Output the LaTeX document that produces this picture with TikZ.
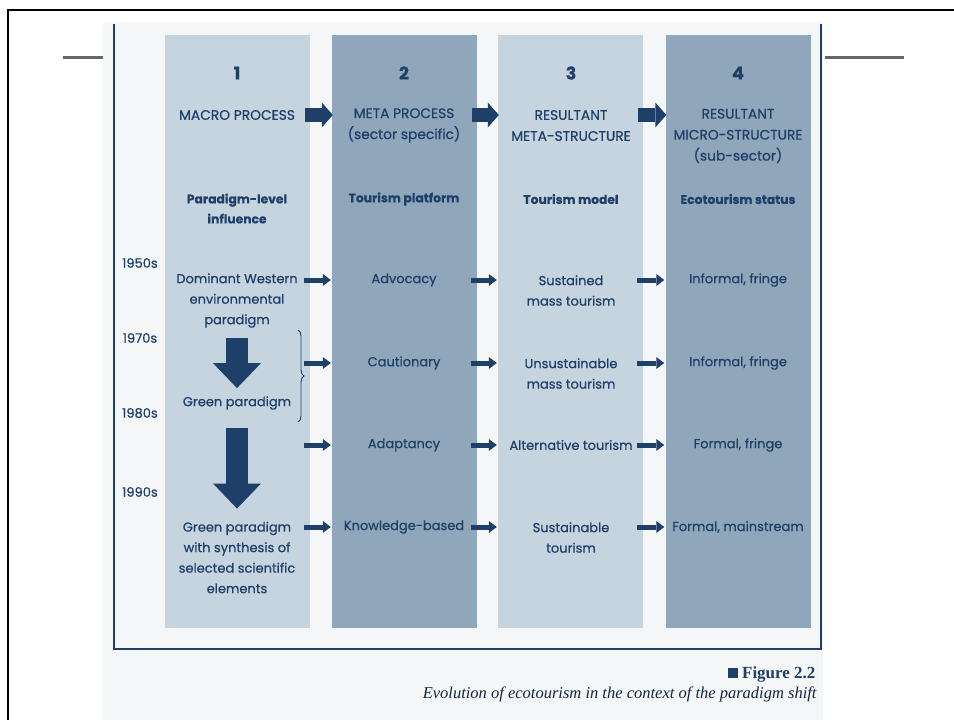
\documentclass[tikz,border=0pt]{standalone}
\usepackage{fontspec}
\setmainfont{Poppins}[UprightFeatures={FakeBold=0.5},BoldFeatures={FakeBold=0.4}]
\newfontfamily\capfont{Liberation Serif}
\usetikzlibrary{arrows.meta,decorations.pathreplacing}

\definecolor{navy}{HTML}{1D3F68}
\definecolor{palecol}{HTML}{C6D4E0}
\definecolor{deepcol}{HTML}{8FA6BB}
\definecolor{scan}{HTML}{F5F6F7}
\definecolor{rulegray}{HTML}{666666}

\tikzset{
  column/.style={minimum width=145pt, minimum height=593pt, inner sep=0pt},
  txt/.style={text=navy, align=center, inner sep=1pt, font=\fontsize{13}{20.5}\selectfont},
  hdr/.style={txt, font=\fontsize{13.8}{21}\selectfont},
  ttl/.style={txt, font=\bfseries\fontsize{12.3}{20}\selectfont},
  num/.style={txt, font=\bfseries\fontsize{17.5}{20}\selectfont},
  yr/.style={txt},
  bigarrow/.style={navy, line width=14pt, -{Triangle[width=25pt,length=11pt,line width=0pt]}},
  flow/.style={navy, line width=5pt, -{Triangle[width=12pt,length=8pt,line width=0pt]}},
  downarrow/.style={navy, line width=22pt, -{Triangle[width=48pt,length=25pt,line width=0pt]}},
}

\begin{document}
\begin{tikzpicture}[x=1pt,y=-1pt]
\newcommand{\xx}{167}
\useasboundingbox (0,0) rectangle (954,720);
% page frame and scan
\fill[scan] (103,22) rectangle (823,720);
\draw[line width=2.6pt] (960,10) -- (8,10) -- (8,725);
\draw[rulegray, line width=3pt] (63,57) -- (103,57);
\draw[rulegray, line width=3pt] (825,57) -- (904,57);
\draw[navy, line width=1.8pt] (114,24) -- (114,649) -- (821,649) -- (821,24);
% the four columns
\node[column, fill=palecol] (c1) at (237.5,331.5) {};
\node[column, fill=deepcol] (c2) at (404.5,331.5) {};
\node[column, fill=palecol] (c3) at (570.5,331.5) {};
\node[column, fill=deepcol] (c4) at (738,331.5) {};
% headings
\node[num] (n1) at (237+0*\xx,73) {1};
\node[num] (n2) at (237+1*\xx,73) {2};
\node[num] (n3) at (237+2*\xx,73) {3};
\node[num] (n4) at (237+3*\xx,73) {4};
\node[hdr] (h1) at (237+0*\xx,115) {MACRO PROCESS};
\node[hdr] (h2) at (237+1*\xx,125.5) {META PROCESS\\(sector specific)};
\node[hdr] (h3) at (237+2*\xx,125.5) {RESULTANT\\META-STRUCTURE};
\node[hdr] (h4) at (237+3*\xx,136) {RESULTANT\\MICRO-STRUCTURE\\(sub-sector)};
\node[ttl] (t1) at (237+0*\xx,208.5) {Paradigm-level\\influence};
\node[ttl] (t2) at (237+1*\xx,199) {Tourism platform};
\node[ttl] (t3) at (237+2*\xx,199) {Tourism model};
\node[ttl] (t4) at (237+3*\xx,199) {Ecotourism status};
% decades
\node[yr] (y50) at (140,263) {1950s};
\node[yr] (y70) at (140,338) {1970s};
\node[yr] (y80) at (140,413) {1980s};
\node[yr] (y90) at (140,492) {1990s};
% paradigms
\node[txt] (dom) at (237,300.5) {Dominant Western\\environmental\\paradigm};
\node[txt] (green) at (237,403) {Green paradigm};
\node[txt] (gsyn) at (237,557.5) {Green paradigm\\with synthesis of\\selected scientific\\elements};
% platforms
\node[txt] (adv) at (237+1*\xx,280) {Advocacy};
\node[txt] (caut) at (237+1*\xx,363) {Cautionary};
\node[txt] (adap) at (237+1*\xx,445) {Adaptancy};
\node[txt] (know) at (237+1*\xx,527) {Knowledge-based};
% models
\node[txt] (sust) at (237+2*\xx,290.5) {Sustained\\mass tourism};
\node[txt] (unsus) at (237+2*\xx,373.5) {Unsustainable\\mass tourism};
\node[txt] (alt) at (237+2*\xx,445) {Alternative tourism};
\node[txt] (sustain) at (237+2*\xx,537.5) {Sustainable\\tourism};
% status
\node[txt] (inf1) at (237+3*\xx,280) {Informal, fringe};
\node[txt] (inf2) at (237+3*\xx,363) {Informal, fringe};
\node[txt] (form1) at (237+3*\xx,445) {Formal, fringe};
\node[txt] (form2) at (237+3*\xx,527) {Formal, mainstream};
% heading arrows
\draw[bigarrow] ([xshift=-5pt]c1.east |- h1) -- ([xshift=1pt]c2.west |- h1);
\draw[bigarrow] ([xshift=-5pt]c2.east |- h1) -- ([xshift=1pt]c3.west |- h1);
\draw[bigarrow] ([xshift=-5pt]c3.east |- h1) -- ([xshift=1pt]c4.west |- h1);
% row arrows
\foreach \r in {adv,caut,adap,know}{
  \draw[flow] ([xshift=-6pt]c1.east |- \r) -- ([xshift=-1pt]c2.west |- \r);
  \draw[flow] ([xshift=-6pt]c2.east |- \r) -- ([xshift=-1pt]c3.west |- \r);
  \draw[flow] ([xshift=-6pt]c3.east |- \r) -- ([xshift=-1pt]c4.west |- \r);
}
% shift of paradigm
\draw[downarrow, shorten <=9pt, shorten >=7pt] (dom) -- (green);
\draw[downarrow, shorten <=17pt, shorten >=12pt] (green) -- (gsyn);
\draw[navy, line width=0.9pt, decorate, decoration={brace, amplitude=6pt}] (298,330) -- (298,422);
% caption
\node[anchor=base east, text=navy, font=\capfont\bfseries\fontsize{17}{20}\selectfont] (fig) at (819,678) {\rule{10pt}{10pt}\ Figure 2.2};
\node[anchor=base east, text=navy!60!black, font=\capfont\itshape\fontsize{16.5}{20}\selectfont] (cap) at (820,698) {Evolution of ecotourism in the context of the paradigm shift};
\end{tikzpicture}
\end{document}
